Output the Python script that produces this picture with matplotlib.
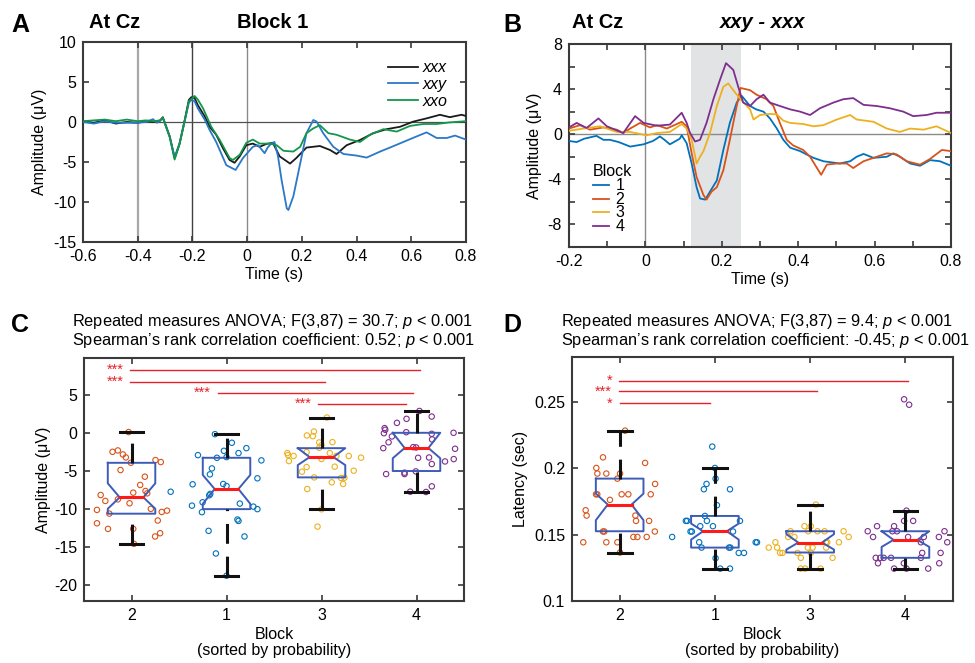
import matplotlib
matplotlib.use("Agg")
import matplotlib.pyplot as plt

plt.rcParams["font.family"] = ["Liberation Sans", "DejaVu Sans"]
plt.rcParams["mathtext.fontset"] = "custom"
plt.rcParams["mathtext.it"] = "Liberation Sans:italic"
plt.rcParams["mathtext.rm"] = "Liberation Sans"
plt.rcParams["axes.unicode_minus"] = False

# ---------------------------
# PANEL A: ERP at Cz, block 1 (time s, amplitude uV)
# ---------------------------
erp_xxx = [(-0.60, 0.1), (-0.56, -0.1), (-0.52, 0.2), (-0.48, -0.2), (-0.44, 0.0), (-0.40, -0.1),
           (-0.37, 0.1), (-0.34, 0.0), (-0.32, 0.1), (-0.308, 0.6), (-0.283, -1.8), (-0.265, -4.5),
           (-0.247, -2.7), (-0.228, 0.25), (-0.213, 2.75), (-0.204, 3.1), (-0.192, 3.0), (-0.180, 2.1),
           (-0.155, 0.7), (-0.137, -0.6), (-0.113, -1.6), (-0.088, -3.3), (-0.064, -4.75), (-0.046, -5.1),
           (-0.027, -4.3), (-0.003, -2.9), (0.021, -2.7), (0.046, -3.1), (0.070, -2.75), (0.094, -2.6),
           (0.119, -4.3), (0.157, -5.2), (0.180, -4.5), (0.217, -3.2), (0.266, -3.0), (0.303, -3.5),
           (0.327, -4.0), (0.364, -2.9), (0.413, -2.25), (0.461, -1.4), (0.510, -0.9), (0.559, -0.6),
           (0.608, 0.05), (0.656, 0.45), (0.705, 0.9), (0.741, 0.6), (0.784, 0.9), (0.80, 0.75)]
erp_xxy = [(-0.60, 0.0), (-0.56, -0.2), (-0.52, 0.1), (-0.48, -0.1), (-0.44, -0.1), (-0.40, -0.1),
           (-0.37, 0.0), (-0.344, 0.35), (-0.33, -0.1), (-0.32, 0.1), (-0.308, 0.5), (-0.283, -1.8),
           (-0.265, -4.4), (-0.247, -2.7), (-0.228, 0.1), (-0.213, 2.4), (-0.204, 2.75), (-0.192, 2.6),
           (-0.180, 1.7), (-0.155, 0.3), (-0.137, -1.0), (-0.113, -2.5), (-0.076, -5.4), (-0.042, -6.0),
           (-0.015, -4.5), (0.021, -3.1), (0.040, -2.9), (0.064, -3.9), (0.075, -3.2), (0.088, -2.7),
           (0.100, -2.5), (0.113, -4.3), (0.126, -7.25), (0.145, -10.8), (0.151, -11.0), (0.169, -9.3),
           (0.194, -5.2), (0.217, -1.4), (0.242, 0.25), (0.254, 0.05), (0.278, -1.4), (0.315, -3.1),
           (0.352, -4.0), (0.40, -4.2), (0.437, -4.45), (0.486, -3.7), (0.522, -3.2), (0.571, -2.5),
           (0.62, -1.8), (0.656, -1.3), (0.693, -2.0), (0.73, -2.0), (0.76, -1.7), (0.80, -2.2)]
erp_xxo = [(-0.60, 0.1), (-0.56, 0.2), (-0.52, 0.3), (-0.48, 0.1), (-0.44, 0.3), (-0.40, 0.1),
           (-0.37, 0.2), (-0.34, 0.1), (-0.32, 0.2), (-0.308, 0.5), (-0.283, -1.9), (-0.265, -4.7),
           (-0.247, -2.8), (-0.228, 0.2), (-0.213, 2.6), (-0.192, 3.25), (-0.180, 2.8), (-0.161, 1.7),
           (-0.131, -0.6), (-0.100, -2.25), (-0.064, -4.5), (-0.052, -4.75), (-0.027, -4.1), (-0.003, -2.6),
           (0.021, -2.2), (0.046, -2.7), (0.082, -2.7), (0.108, -2.9), (0.133, -3.6), (0.169, -3.7),
           (0.194, -3.1), (0.217, -1.4), (0.242, -0.8), (0.266, -0.4), (0.297, -1.4), (0.327, -1.6),
           (0.376, -2.2), (0.413, -2.5), (0.449, -1.6), (0.498, -0.9), (0.547, -1.2), (0.595, -0.5),
           (0.644, -0.25), (0.693, -0.25), (0.741, -0.05), (0.80, 0.1)]

# ---------------------------
# PANEL B: difference wave xxy - xxx per block
# ---------------------------
diff_block1 = [(-0.20, -0.6), (-0.18, -0.7), (-0.16, -0.4), (-0.128, -0.15), (-0.11, -0.5), (-0.093, -0.5),
               (-0.07, -0.7), (-0.04, -1.1), (-0.005, -0.9), (0.02, -0.6), (0.038, -0.2), (0.05, -0.5),
               (0.064, -0.9), (0.09, -0.4), (0.095, -0.1), (0.108, -0.8), (0.121, -2.6), (0.134, -4.7),
               (0.143, -5.7), (0.156, -5.8), (0.162, -5.5), (0.169, -5.1), (0.187, -4.1), (0.204, -1.4),
               (0.221, 1.0), (0.239, 2.8), (0.252, 3.4), (0.274, 2.5), (0.290, 2.2), (0.309, 2.0),
               (0.326, 1.4), (0.344, 0.5), (0.361, -0.5), (0.379, -1.2), (0.405, -1.5), (0.422, -1.8),
               (0.44, -2.1), (0.466, -2.4), (0.509, -2.6), (0.536, -2.4), (0.553, -2.0), (0.571, -1.75),
               (0.597, -2.1), (0.632, -2.0), (0.649, -1.7), (0.666, -2.0), (0.693, -2.6), (0.719, -2.8),
               (0.745, -2.3), (0.771, -2.4), (0.80, -2.8)]
diff_block2 = [(-0.20, 0.5), (-0.171, 0.8), (-0.145, 0.4), (-0.11, 0.6), (-0.075, 0.4), (-0.058, 0.1),
               (-0.04, 0.5), (-0.014, 1.0), (0.012, 0.6), (0.03, 0.8), (0.056, 0.5), (0.095, 1.1),
               (0.108, 0.7), (0.121, -1.7), (0.134, -3.8), (0.152, -5.4), (0.160, -5.8), (0.173, -5.1),
               (0.187, -4.7), (0.204, -3.2), (0.221, -0.5), (0.239, 2.5), (0.249, 4.1), (0.274, 3.9),
               (0.291, 3.5), (0.317, 3.1), (0.335, 2.5), (0.352, 1.0), (0.370, -0.5), (0.387, -1.0),
               (0.413, -1.4), (0.431, -2.0), (0.46, -3.6), (0.475, -2.7), (0.501, -2.6), (0.527, -2.6),
               (0.544, -3.0), (0.571, -2.4), (0.597, -2.1), (0.632, -1.7), (0.658, -1.8), (0.684, -2.4),
               (0.719, -2.7), (0.745, -2.2), (0.776, -1.4), (0.80, -1.5)]
diff_block3 = [(-0.20, 0.3), (-0.162, 0.5), (-0.119, 0.7), (-0.075, 0.2), (-0.04, 0.2), (0.003, -0.1),
               (0.03, 0.1), (0.064, 0.2), (0.095, 0.9), (0.108, 0.5), (0.121, -0.5), (0.134, -2.6),
               (0.143, -2.0), (0.152, -1.5), (0.169, 0.1), (0.187, 2.5), (0.204, 4.2), (0.217, 4.5),
               (0.230, 3.9), (0.249, 3.1), (0.274, 2.2), (0.283, 1.3), (0.300, 1.7), (0.326, 1.8),
               (0.344, 1.75), (0.361, 1.2), (0.379, 1.0), (0.413, 0.9), (0.44, 0.7), (0.466, 0.8),
               (0.501, 1.3), (0.536, 1.7), (0.553, 1.3), (0.597, 1.1), (0.632, 0.5), (0.666, 0.2),
               (0.693, 0.5), (0.728, 0.4), (0.762, 0.7), (0.80, 0.1)]
diff_block4 = [(-0.20, 0.6), (-0.18, 1.0), (-0.154, 0.55), (-0.123, 1.4), (-0.101, 0.7), (-0.058, 0.1),
               (-0.027, 1.6), (-0.005, 1.0), (0.03, 0.75), (0.064, 0.85), (0.095, 1.9), (0.108, 1.0),
               (0.117, 0.1), (0.130, -0.65), (0.143, -0.5), (0.160, 1.0), (0.178, 3.1), (0.195, 4.8),
               (0.211, 6.3), (0.230, 5.7), (0.243, 4.2), (0.256, 2.8), (0.274, 2.5), (0.291, 3.1),
               (0.309, 3.5), (0.326, 2.8), (0.352, 2.5), (0.379, 2.2), (0.405, 2.0), (0.431, 1.7),
               (0.457, 2.3), (0.492, 2.8), (0.518, 3.1), (0.544, 3.2), (0.571, 2.6), (0.605, 2.5),
               (0.64, 2.3), (0.675, 2.0), (0.701, 1.6), (0.736, 1.7), (0.762, 1.9), (0.80, 1.9)]
window = (0.12, 0.25)

# ---------------------------
# PANELS C / D: per-subject values, x = jittered box position
# boxes ordered by probability: block 2, 1, 3, 4
# ---------------------------
block_order = ["2", "1", "3", "4"]
block_colors = ["#D95319", "#0072BD", "#EDB120", "#7E2F8E"]

amp_b2 = [(0.969, 0.15), (0.80, -2.45), (0.856, -2.27), (0.909, -2.8), (0.94, -3.19), (0.993, -3.89),
          (1.252, -3.54), (1.308, -3.8), (0.884, -4.85), (1.14, -5.73), (1.091, -6.82), (1.147, -7.61),
          (1.165, -7.92), (1.018, -7.83), (0.675, -8.14), (0.724, -8.92), (0.856, -8.71), (0.979, -9.23),
          (0.766, -10.59), (0.636, -10.1), (1.203, -9.97), (1.318, -10.37), (1.374, -10.2), (1.276, -11.5),
          (0.636, -11.86), (0.752, -12.6), (1.018, -12.6), (1.025, -14.57), (1.301, -13.17), (1.248, -13.6)]
amp_b1 = [(1.878, -0.13), (2.056, -1.26), (2.209, -1.97), (1.972, -2.32), (2.126, -2.62), (1.699, -2.89),
          (1.899, -3.24), (2.0, -3.15), (2.367, -3.58), (1.846, -4.64), (1.825, -5.42), (2.325, -5.94),
          (1.643, -6.73), (1.965, -6.69), (2.0, -6.96), (1.829, -8.0), (1.818, -8.18), (1.748, -9.1),
          (1.636, -9.54), (1.741, -10.4), (2.14, -9.27), (2.283, -9.67), (2.325, -10.0), (2.115, -11.37),
          (2.126, -11.55), (1.811, -12.86), (2.189, -13.6), (1.888, -15.84), (2.0, -18.77), (1.412, -7.71)]
amp_b3 = [(3.056, 2.06), (2.92, 0.22), (2.846, -0.3), (2.909, -0.39), (2.976, -1.22), (3.115, -1.18),
          (2.976, -1.92), (3.0, -1.57), (2.843, -2.49), (2.64, -2.62), (2.647, -2.88), (2.706, -3.0),
          (3.087, -2.62), (3.157, -3.0), (3.287, -3.0), (3.416, -3.22), (3.0, -3.4), (2.657, -3.67),
          (2.843, -4.46), (3.139, -4.41), (2.794, -5.07), (3.339, -4.94), (2.923, -5.82), (3.206, -5.9),
          (3.241, -5.86), (3.108, -6.47), (3.227, -6.69), (2.85, -7.35), (3.0, -10.02), (2.958, -12.3)]
amp_b4 = [(4.031, 2.93), (4.16, 2.19), (3.794, 1.36), (3.895, 1.89), (3.664, 0.67), (3.671, 0.45),
          (3.657, 0.0), (3.892, 0.13), (4.16, -0.08), (4.39, 0.05), (3.741, -0.43), (4.164, -0.82),
          (3.706, -1.2), (3.965, -1.84), (3.996, -1.88), (3.65, -1.97), (4.406, -2.05), (4.017, -3.24),
          (4.132, -3.2), (4.3, -3.72), (4.392, -3.41), (4.161, -4.06), (3.68, -5.38), (3.874, -5.2),
          (3.874, -5.38), (3.993, -5.03), (4.161, -7.0), (3.934, -7.7), (4.10, -7.74)]

amp_q1 = [-10.6, -10.0, -5.82, -4.98]
amp_med = [-8.45, -7.35, -3.15, -1.95]
amp_q3 = [-3.9, -3.24, -1.97, 0.05]
amp_ci_lo = [-9.95, -9.3, -4.2, -3.3]
amp_ci_hi = [-6.6, -5.5, -1.97, 0.05]
amp_whis_lo = [-14.6, -18.8, -10.0, -7.75]
amp_whis_hi = [0.1, -0.1, 2.06, 2.9]

amp_sig_y = [8.3, 6.78, 5.3, 3.85]
amp_sig_x0 = [0.983, 0.983, 1.906, 2.965]
amp_sig_x1 = [4.04, 3.04, 3.965, 3.89]
amp_sig_lab = ["***", "***", "***", "***"]

lat_b2 = [(1.057, 0.2282), (0.825, 0.2081), (1.267, 0.2039), (0.755, 0.2001), (0.766, 0.1959),
          (0.86, 0.1959), (1.004, 0.1959), (0.976, 0.1921), (1.372, 0.1881), (0.752, 0.1803),
          (0.765, 0.1803), (1.021, 0.1803), (1.091, 0.1803), (1.326, 0.1803), (0.898, 0.1761),
          (0.643, 0.1683), (0.653, 0.1643), (1.165, 0.1643), (1.172, 0.1603), (1.309, 0.1603),
          (0.825, 0.1523), (0.839, 0.1523), (1.369, 0.1523), (1.144, 0.1482), (1.186, 0.1482),
          (1.284, 0.1482), (0.618, 0.1442), (0.86, 0.1442), (0.976, 0.1442), (1.004, 0.1365)]
lat_b1 = [(1.972, 0.2162), (2.0, 0.2001), (2.007, 0.1921), (1.912, 0.1881), (1.884, 0.1841),
          (2.158, 0.1841), (2.021, 0.1721), (1.895, 0.164), (1.695, 0.1603), (1.709, 0.1603),
          (1.916, 0.1603), (2.263, 0.1603), (1.744, 0.1523), (1.758, 0.1523), (1.846, 0.1563),
          (1.979, 0.1563), (2.19, 0.1523), (1.551, 0.1482), (1.835, 0.1442), (1.86, 0.1402),
          (2.148, 0.1402), (2.162, 0.1402), (2.428, 0.1442), (2.442, 0.1442), (2.25, 0.1362),
          (2.305, 0.1362), (2.007, 0.1322), (2.056, 0.1244), (2.158, 0.1244)]
lat_b3 = [(3.06, 0.1726), (3.007, 0.1563), (2.94, 0.1563), (2.793, 0.1525), (2.979, 0.1525),
          (3.077, 0.1525), (3.151, 0.1525), (3.351, 0.1525), (2.769, 0.1482), (2.835, 0.1482),
          (3.404, 0.1482), (2.635, 0.1442), (3.165, 0.1442), (3.179, 0.1442), (3.302, 0.1442),
          (2.565, 0.1402), (2.653, 0.1402), (2.976, 0.1402), (3.025, 0.1402), (3.168, 0.1402),
          (2.684, 0.1362), (2.709, 0.1362), (2.867, 0.1362), (3.007, 0.1362), (2.902, 0.1325),
          (3.235, 0.1325), (2.902, 0.1244), (2.947, 0.1244), (3.109, 0.1244)]
lat_b4 = [(3.986, 0.2518), (4.039, 0.2477), (4.011, 0.168), (3.986, 0.1603), (4.081, 0.1603),
          (3.702, 0.1563), (3.881, 0.1563), (3.604, 0.1525), (3.863, 0.1525), (3.912, 0.1525),
          (4.41, 0.1525), (3.66, 0.1482), (4.028, 0.1482), (4.193, 0.1482), (4.351, 0.1482),
          (4.439, 0.1442), (4.162, 0.1442), (3.688, 0.1325), (3.737, 0.1325), (3.772, 0.1325),
          (3.849, 0.1325), (4.162, 0.1325), (4.176, 0.1362), (4.369, 0.1362), (3.712, 0.1284),
          (3.983, 0.1284), (4.355, 0.1284), (3.881, 0.1244), (4.011, 0.1244), (4.239, 0.1244)]

lat_q1 = [0.1525, 0.1402, 0.1365, 0.1325]
lat_med = [0.1726, 0.1525, 0.1440, 0.1460]
lat_q3 = [0.1921, 0.1640, 0.1525, 0.1525]
lat_ci_lo = [0.1608, 0.1462, 0.1387, 0.1407]
lat_ci_hi = [0.1808, 0.1583, 0.1503, 0.1525]
lat_whis_lo = [0.1365, 0.1244, 0.1244, 0.1244]
lat_whis_hi = [0.2282, 0.2004, 0.1726, 0.1680]

lat_sig_y = [0.2655, 0.258, 0.2487]
lat_sig_x0 = [0.99, 0.99, 1.0]
lat_sig_x1 = [4.03, 3.07, 1.947]
lat_sig_lab = ["*", "***", "*"]

FS = 11.5
AX_COL = "#3a3a3a"
SIG_COL = "#e8202a"


def style_axes(ax):
    for s in ax.spines.values():
        s.set_linewidth(1.5)
        s.set_color(AX_COL)
    ax.tick_params(direction="in", top=True, right=True, length=4, width=1.2,
                   color=AX_COL, labelsize=FS, pad=5)


def unzip(pairs):
    return [p[0] for p in pairs], [p[1] for p in pairs]


def draw_box(ax, p, q1, med, q3, ci_lo, ci_hi, wlo, whi):
    w = 0.25
    hi = min(ci_hi, q3)
    lo = max(ci_lo, q1)
    xs = [p - w, p + w, p + w, p + w / 2, p + w, p + w, p - w, p - w, p - w / 2, p - w, p - w]
    ys = [q3, q3, hi, med, lo, q1, q1, lo, med, hi, q3]
    ax.plot(xs, ys, color="#3d5cb8", lw=1.4, zorder=4)
    ax.plot([p - w / 2, p + w / 2], [med, med], color="#ff1a1a", lw=2.2, zorder=5)
    dash = (0, (6.5, 4.2))
    ax.plot([p, p], [wlo, q1], color="#111111", lw=2.2, ls=dash, zorder=4)
    ax.plot([p, p], [q3, whi], color="#111111", lw=2.2, ls=dash, zorder=4)
    ax.plot([p - 0.125, p + 0.125], [wlo, wlo], color="#111111", lw=2.2, zorder=4)
    ax.plot([p - 0.125, p + 0.125], [whi, whi], color="#111111", lw=2.2, zorder=4)


def box_panel(ax, pts, q1, med, q3, cilo, cihi, wlo, whi, sy, sx0, sx1, slab, star_ls):
    for k, blk in enumerate(pts):
        x, y = unzip(blk)
        ax.scatter(x, y, s=15, facecolors="none", edgecolors=block_colors[k],
                   linewidths=0.8, zorder=3)
    for k in range(4):
        draw_box(ax, k + 1, q1[k], med[k], q3[k], cilo[k], cihi[k], wlo[k], whi[k])
    for y, a, b in zip(sy, sx0, sx1):
        ax.plot([a, b], [y, y], color=SIG_COL, lw=1.0, zorder=5)
    # stars of bars that start at the same box share one text block
    groups = {}
    for y, a, lab in zip(sy, sx0, slab):
        groups.setdefault(round(a, 1), []).append((y, a, lab))
    for items in groups.values():
        ys = [i[0] for i in items]
        ax.text(min(i[1] for i in items) - 0.07, (max(ys) + min(ys)) / 2,
                "\n".join(i[2] for i in items), color=SIG_COL, fontsize=10.5,
                ha="right", va="center", multialignment="right", linespacing=star_ls)
    ax.set_xlim(0.5, 4.5)
    ax.set_xticks([1, 2, 3, 4])
    ax.set_xticklabels(block_order)
    ax.set_xlabel("Block\n(sorted by probability)", fontsize=FS, linespacing=1.1, labelpad=3)


fig = plt.figure(figsize=(9.75, 6.63), dpi=100)

# ---------------------------
# A
# ---------------------------
axA = fig.add_axes([0.0851, 0.635, 0.3928, 0.3017])
axA.axvline(-0.4, color="#a8a8a8", lw=1.6, zorder=1)
axA.axvline(-0.2, color="#404040", lw=1.0, zorder=1)
axA.axvline(0.0, color="#8a8a8a", lw=1.0, zorder=1)
axA.axhline(0.0, color="#505050", lw=0.9, zorder=1)
for trace, col, lab in [(erp_xxx, "#1a1a1a", "xxx"), (erp_xxy, "#2a78c8", "xxy"),
                        (erp_xxo, "#14964a", "xxo")]:
    t, v = unzip(trace)
    axA.plot(t, v, color=col, lw=1.3, label=lab, zorder=3)
axA.set_xlim(-0.6, 0.8)
axA.set_ylim(-15, 10)
axA.set_xticks([-0.6, -0.4, -0.2, 0, 0.2, 0.4, 0.6, 0.8])
axA.set_xticklabels(["-0.6", "-0.4", "-0.2", "0", "0.2", "0.4", "0.6", "0.8"])
axA.set_yticks([-15, -10, -5, 0, 5, 10])
axA.set_xlabel("Time (s)", fontsize=FS, labelpad=2)
axA.set_ylabel("Amplitude (μV)", fontsize=FS, labelpad=4)
style_axes(axA)
axA.legend(loc="upper right", bbox_to_anchor=(0.99, 0.98), frameon=False,
           handlelength=1.9, handletextpad=0.3, labelspacing=0.1, prop={"style": "italic", "size": FS})

# ---------------------------
# B
# ---------------------------
axB = fig.add_axes([0.5836, 0.6275, 0.3918, 0.3062])
axB.axvspan(window[0], window[1], color="#e2e3e5", lw=0, zorder=0)
axB.axvline(0.0, color="#8a8a8a", lw=1.0, zorder=1)
axB.axhline(0.0, color="#8a8a8a", lw=1.0, zorder=1)
for k, trace in enumerate([diff_block1, diff_block2, diff_block3, diff_block4]):
    t, v = unzip(trace)
    axB.plot(t, v, color=["#0072BD", "#D95319", "#EDB120", "#7E2F8E"][k], lw=1.3,
             label=str(k + 1), zorder=3)
axB.set_xlim(-0.2, 0.8)
axB.set_ylim(-10, 8)
axB.set_xticks([-0.2, -0.1, 0, 0.1, 0.2, 0.3, 0.4, 0.5, 0.6, 0.7, 0.8])
axB.set_xticklabels(["-0.2", "", "0", "", "0.2", "", "0.4", "", "0.6", "", "0.8"])
axB.set_yticks([-10, -8, -6, -4, -2, 0, 2, 4, 6, 8])
axB.set_yticklabels(["", "-8", "", "-4", "", "0", "", "4", "", "8"])
axB.set_xlabel("Time (s)", fontsize=FS, labelpad=2)
axB.set_ylabel("Amplitude (μV)", fontsize=FS, labelpad=4)
style_axes(axB)
axB.legend(title="Block", loc="lower left", bbox_to_anchor=(0.03, 0.0), frameon=False,
           fontsize=FS, title_fontsize=FS, handlelength=1.0, handletextpad=0.4,
           labelspacing=-0.08, alignment="left", borderpad=0.3, handleheight=0.5)

# ---------------------------
# C
# ---------------------------
axC = fig.add_axes([0.0862, 0.0935, 0.3897, 0.3665])
box_panel(axC, [amp_b2, amp_b1, amp_b3, amp_b4], amp_q1, amp_med, amp_q3, amp_ci_lo, amp_ci_hi,
          amp_whis_lo, amp_whis_hi, amp_sig_y, amp_sig_x0, amp_sig_x1, amp_sig_lab, 0.86)
axC.set_ylim(-22.1, 9.9)
axC.set_yticks([-20, -15, -10, -5, 0, 5])
axC.set_ylabel("Amplitude (μV)", fontsize=FS, labelpad=2)
style_axes(axC)

# ---------------------------
# D
# ---------------------------
axD = fig.add_axes([0.5867, 0.0935, 0.3908, 0.368])
box_panel(axD, [lat_b2, lat_b1, lat_b3, lat_b4], lat_q1, lat_med, lat_q3, lat_ci_lo, lat_ci_hi,
          lat_whis_lo, lat_whis_hi, lat_sig_y, lat_sig_x0, lat_sig_x1, lat_sig_lab, 0.8)
axD.set_ylim(0.1, 0.2836)
axD.set_yticks([0.1, 0.15, 0.2, 0.25])
axD.set_yticklabels(["0.1", "0.15", "0.2", "0.25"])
axD.set_ylabel("Latency (sec)", fontsize=FS, labelpad=4)
style_axes(axD)

# ---------------------------
# TITLES AND PANEL LETTERS
# ---------------------------
H = 663.0
W = 975.0
for x, y, s in [(20, 25, "A"), (512, 25, "B"), (20, 325, "C"), (512, 325, "D")]:
    fig.text(x / W, 1 - y / H, s, fontsize=18, fontweight="bold", ha="center", va="center")
fig.text(115 / W, 1 - 23 / H, "At Cz", fontsize=14.5, fontweight="bold", ha="center", va="center")
fig.text(273 / W, 1 - 23 / H, "Block 1", fontsize=14.5, fontweight="bold", ha="center", va="center")
fig.text(598 / W, 1 - 23 / H, "At Cz", fontsize=14.5, fontweight="bold", ha="center", va="center")
fig.text(763 / W, 1 - 23 / H, "xxy - xxx", fontsize=14.5, fontweight="bold", style="italic",
         ha="center", va="center")

fig.text(72 / W, 1 - 321 / H, "Repeated measures ANOVA; F(3,87) = 30.7; $p$ < 0.001",
         fontsize=11.8, ha="left", va="center")
fig.text(72 / W, 1 - 341 / H, "Spearman’s rank correlation coefficient: 0.52; $p$ < 0.001",
         fontsize=11.8, ha="left", va="center")
fig.text(561 / W, 1 - 321 / H, "Repeated measures ANOVA; F(3,87) = 9.4; $p$ < 0.001",
         fontsize=11.8, ha="left", va="center")
fig.text(561 / W, 1 - 341 / H, "Spearman’s rank correlation coefficient: -0.45; $p$ < 0.001",
         fontsize=11.8, ha="left", va="center")

fig.savefig("out.png", dpi=100)
